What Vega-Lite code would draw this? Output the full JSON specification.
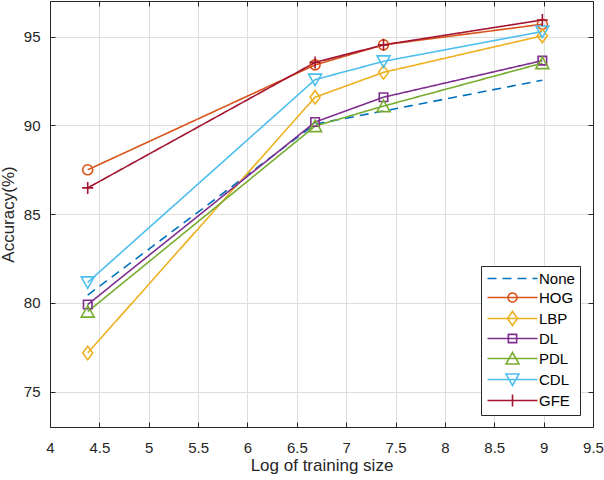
{
  "$schema": "https://vega.github.io/schema/vega-lite/v6.json",
  "autosize": {"type": "none"},
  "padding": {"left": 50, "top": 1, "right": 11, "bottom": 53},
  "width": 543,
  "height": 426,
  "background": "white",
  "config": {
    "font": "Liberation Sans",
    "view": {"stroke": null},
    "axis": {
      "domainColor": "#262626",
      "domainWidth": 1,
      "tickColor": "#262626",
      "tickSize": -5,
      "tickWidth": 1,
      "gridColor": "#dedede",
      "gridWidth": 1,
      "labelColor": "#262626",
      "labelFontSize": 15,
      "titleColor": "#262626",
      "titleFontSize": 17,
      "titleFontWeight": "normal"
    }
  },
  "data": {
    "values": [
      {"series": "None", "x": 4.382, "y": 80.43},
      {"series": "None", "x": 6.685, "y": 90.07},
      {"series": "None", "x": 7.378, "y": 90.8},
      {"series": "None", "x": 8.987, "y": 92.54},
      {"series": "HOG", "x": 4.382, "y": 87.49},
      {"series": "HOG", "x": 6.685, "y": 93.4},
      {"series": "HOG", "x": 7.378, "y": 94.53},
      {"series": "HOG", "x": 8.987, "y": 95.69},
      {"series": "LBP", "x": 4.382, "y": 77.17},
      {"series": "LBP", "x": 6.685, "y": 91.58},
      {"series": "LBP", "x": 7.378, "y": 92.98},
      {"series": "LBP", "x": 8.987, "y": 95.04},
      {"series": "DL", "x": 4.382, "y": 79.9},
      {"series": "DL", "x": 6.685, "y": 90.18},
      {"series": "DL", "x": 7.378, "y": 91.58},
      {"series": "DL", "x": 8.987, "y": 93.64},
      {"series": "PDL", "x": 4.382, "y": 79.5},
      {"series": "PDL", "x": 6.685, "y": 89.95},
      {"series": "PDL", "x": 7.378, "y": 91.08},
      {"series": "PDL", "x": 8.987, "y": 93.5},
      {"series": "CDL", "x": 4.382, "y": 81.15},
      {"series": "CDL", "x": 6.685, "y": 92.57},
      {"series": "CDL", "x": 7.378, "y": 93.6},
      {"series": "CDL", "x": 8.987, "y": 95.28},
      {"series": "GFE", "x": 4.382, "y": 86.47},
      {"series": "GFE", "x": 6.685, "y": 93.54},
      {"series": "GFE", "x": 7.378, "y": 94.53},
      {"series": "GFE", "x": 8.987, "y": 95.93}
    ]
  },
  "resolve": {"axis": {"x": "independent", "y": "independent"}},
  "layer": [
    {
      "mark": {"type": "line", "strokeWidth": 1.6},
      "encoding": {
        "x": {
          "field": "x", "type": "quantitative",
          "scale": {"domain": [4, 9.5], "nice": false, "zero": false},
          "axis": {
            "values": [4, 4.5, 5, 5.5, 6, 6.5, 7, 7.5, 8, 8.5, 9, 9.5],
            "format": "~g", "labelPadding": 18, "labelFlush": false,
            "title": "Log of training size", "titlePadding": 2
          }
        },
        "y": {
          "field": "y", "type": "quantitative",
          "scale": {"domain": [73, 97], "nice": false, "zero": false},
          "axis": {
            "values": [75, 80, 85, 90, 95],
            "labelPadding": 15,
            "title": "Accuracy(%)", "titlePadding": 6
          }
        },
        "color": {
          "field": "series", "type": "nominal", "title": null,
          "scale": {
            "domain": ["None", "HOG", "LBP", "DL", "PDL", "CDL", "GFE"],
            "range": ["#0072BD", "#D95319", "#EDB120", "#7E2F8E", "#77AC30", "#4DBEEE", "#A2142F"]
          },
          "legend": {
            "orient": "none",
            "legendX": 431,
            "legendY": 265,
            "fillColor": "white",
            "strokeColor": "#262626",
            "padding": 5,
            "labelFontSize": 15,
            "labelColor": "#000000",
            "symbolOffset": 19,
            "labelOffset": 19,
            "rowPadding": 2,
            "symbolStrokeWidth": 1.6,
            "encode": {
              "symbols": {
                "update": {
                  "size": {"value": 100},
                  "fill": {"value": "transparent"},
                  "shape": {"signal": "datum.value === 'None' ? 'M-5,0H5' : datum.value === 'HOG' ? 'M-5,0H5M-0.9,0A0.9,0.9 0 1,1 0.9,0A0.9,0.9 0 1,1 -0.9,0' : datum.value === 'LBP' ? 'M-5,0H5M0,-1.4L1,0L0,1.4L-1,0Z' : datum.value === 'DL' ? 'M-5,0H5M-0.83,-0.83H0.83V0.83H-0.83Z' : datum.value === 'PDL' ? 'M-5,0H5M0,-1.2L1.3,1.1H-1.3Z' : datum.value === 'CDL' ? 'M-5,0H5M0,1.2L1.3,-1.1H-1.3Z' : 'M-5,0H5M0,-1.2V1.2'"},
                  "strokeDash": {"signal": "datum.value === 'None' ? [9, 6] : [1, 0]"}
                }
              }
            }
          }
        },
        "strokeDash": {
          "field": "series", "type": "nominal", "legend": null,
          "scale": {
            "domain": ["None", "HOG", "LBP", "DL", "PDL", "CDL", "GFE"],
            "range": [[9, 6], [1, 0], [1, 0], [1, 0], [1, 0], [1, 0], [1, 0]]
          }
        }
      }
    },
    {
      "transform": [{"filter": "datum.series !== 'None'"}],
      "mark": {"type": "point", "filled": false, "size": 100, "strokeWidth": 1.6, "opacity": 1},
      "encoding": {
        "x": {"field": "x", "type": "quantitative", "axis": null},
        "y": {"field": "y", "type": "quantitative", "axis": null},
        "color": {"field": "series", "type": "nominal", "legend": null},
        "shape": {
          "field": "series", "type": "nominal", "legend": null,
          "scale": {
            "domain": ["HOG", "LBP", "DL", "PDL", "CDL", "GFE"],
            "range": [
              "M-1,0A1,1 0 1,1 1,0A1,1 0 1,1 -1,0Z",
              "M0,-1.35L1,0L0,1.35L-1,0Z",
              "M-0.85,-0.85H0.85V0.85H-0.85Z",
              "M0,-1.2L1.3,1.1H-1.3Z",
              "M0,1.2L1.3,-1.1H-1.3Z",
              "M-1.1,0H1.1M0,-1.2V1.2"
            ]
          }
        }
      }
    },
    {
      "mark": {"type": "point", "opacity": 0},
      "encoding": {
        "x": {
          "field": "x", "type": "quantitative",
          "axis": {"orient": "top", "values": [4, 4.5, 5, 5.5, 6, 6.5, 7, 7.5, 8, 8.5, 9, 9.5], "labels": false, "grid": false, "title": null}
        },
        "y": {
          "field": "y", "type": "quantitative",
          "axis": {"orient": "right", "values": [75, 80, 85, 90, 95], "labels": false, "grid": false, "title": null}
        }
      }
    }
  ]
}
